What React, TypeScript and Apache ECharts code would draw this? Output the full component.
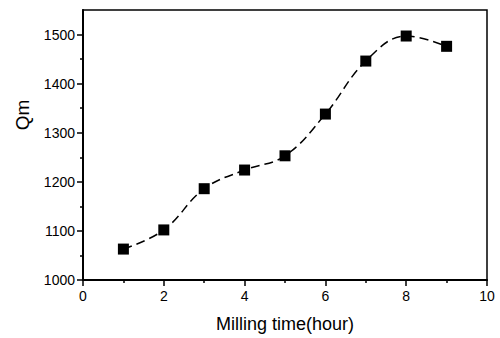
import React, { useEffect, useRef } from "react";
import * as echarts from "echarts";

const millingHours = [1, 2, 3, 4, 5, 6, 7, 8, 9];
const qmValues = [1063, 1102, 1186, 1224, 1253, 1338, 1446, 1497, 1476];
const xMajorTicks = [0, 2, 4, 6, 8, 10];
const xMinorTicks = [1, 3, 5, 7, 9];
const yMajorTicks = [1000, 1100, 1200, 1300, 1400, 1500];
const yMinorTicks = [1050, 1150, 1250, 1350, 1450];
const xTitle = "Milling time(hour)";
const yTitle = "Qm";

const FONT = "'Liberation Sans', Arial, sans-serif";

export default function App() {
  const ref = useRef<HTMLDivElement>(null);
  useEffect(() => {
    if (!ref.current) return;
    const chart = echarts.init(ref.current, null, { renderer: "svg" });
    const grid = { left: 83, top: 10, right: 13, bottom: 58, show: true, borderColor: "#000", borderWidth: 1.5, backgroundColor: "transparent" };
    const axisLineStyle = { show: true, lineStyle: { color: "#000", width: 2 } };
    chart.setOption({
      animation: false,
      backgroundColor: "#fff",
      grid,
      xAxis: [
        {
          type: "value",
          min: 0,
          max: 10,
          interval: 2,
          axisLine: axisLineStyle,
          splitLine: { show: false },
          axisTick: { show: true, length: 6, inside: false, lineStyle: { color: "#000", width: 1.5 }, customValues: xMajorTicks },
          axisLabel: { color: "#000", fontSize: 14, fontFamily: FONT, margin: 9, customValues: xMajorTicks, formatter: (v: number) => String(v) },
        },
        {
          type: "value",
          min: 0,
          max: 10,
          position: "bottom",
          axisLine: { show: false },
          splitLine: { show: false },
          axisTick: { show: true, length: 3, lineStyle: { color: "#000", width: 1.5 }, customValues: xMinorTicks },
          axisLabel: { show: false },
        },
      ],
      yAxis: [
        {
          type: "value",
          min: 1000,
          max: 1550,
          axisLine: axisLineStyle,
          splitLine: { show: false },
          axisTick: { show: true, length: 6, lineStyle: { color: "#000", width: 1.5 }, customValues: yMajorTicks },
          axisLabel: { color: "#000", fontSize: 14, fontFamily: FONT, margin: 8, customValues: yMajorTicks, formatter: (v: number) => String(v) },
        },
        {
          type: "value",
          min: 1000,
          max: 1550,
          position: "left",
          axisLine: { show: false },
          splitLine: { show: false },
          axisTick: { show: true, length: 3, lineStyle: { color: "#000", width: 1.5 }, customValues: yMinorTicks },
          axisLabel: { show: false },
        },
      ],
      graphic: [
        {
          type: "text",
          x: 285,
          y: 324,
          style: { text: xTitle, fontSize: 18, fontFamily: FONT, fill: "#000", textAlign: "center", textVerticalAlign: "middle" },
        },
        {
          type: "text",
          x: 22,
          y: 115,
          rotation: Math.PI / 2,
          style: { text: yTitle, fontSize: 19, fontFamily: FONT, fill: "#000", textAlign: "center", textVerticalAlign: "middle" },
        },
      ],
      series: [
        {
          type: "line",
          data: millingHours.map((h, i) => [h, qmValues[i]]),
          smooth: 0.4,
          symbol: "rect",
          symbolSize: 11,
          itemStyle: { color: "#000" },
          lineStyle: { color: "#000", width: 1.5, type: [9, 5] },
        },
      ],
    });
    return () => chart.dispose();
  }, []);
  return <div ref={ref} style={{ position: "absolute", left: 0, top: 0, width: 500, height: 338 }} />;
}
